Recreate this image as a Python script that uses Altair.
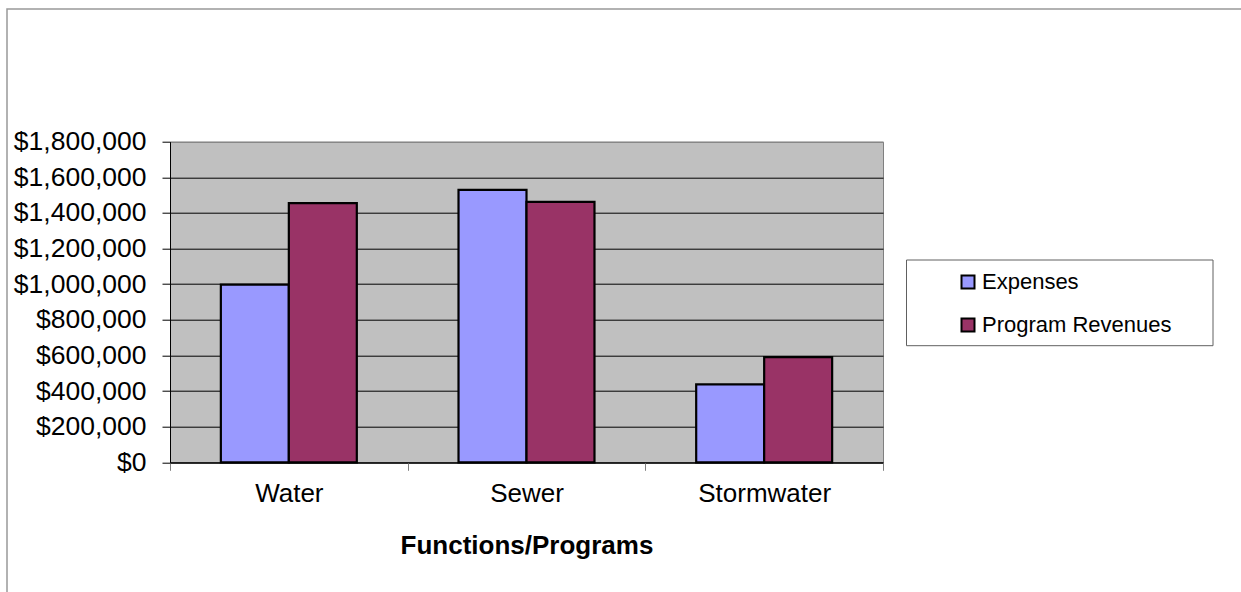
import altair as alt
import pandas as pd

# Chart values
programs = ["Water", "Sewer", "Stormwater"]
series = ["Expenses", "Program Revenues"]
expenses = [997000, 1530000, 438000]
revenues = [1455000, 1462000, 590000]
y_ticks = [0, 200000, 400000, 600000, 800000, 1000000, 1200000, 1400000, 1600000, 1800000]
series_colors = ["#9999FF", "#993366"]

rows = []
for name, exp, rev in zip(programs, expenses, revenues):
    rows.append({"program": name, "series": series[0], "amount": exp})
    rows.append({"program": name, "series": series[1], "amount": rev})
df = pd.DataFrame(rows)

FONT = "Liberation Sans"
W, H = 713, 320.6
PAD = {"left": 170, "top": 141.7, "right": 358, "bottom": 129.7}

bars = alt.Chart(df).mark_bar(stroke="black", strokeWidth=2.2).encode(
    x=alt.X(
        "program:N",
        sort=programs,
        scale=alt.Scale(paddingInner=0, paddingOuter=0),
        axis=alt.Axis(
            title="Functions/Programs",
            labelAngle=0,
            tickBand="extent",
            tickSize=8,
            tickColor="#808080",
            domainColor="black",
            labelFont=FONT,
            labelFontSize=26,
            labelColor="black",
            labelPadding=10,
            titleFont=FONT,
            titleFontSize=26,
            titleFontWeight="bold",
            titleColor="black",
            titleBaseline="alphabetic",
            titleY=91,
            grid=False,
        ),
    ),
    xOffset=alt.XOffset(
        "series:N",
        sort=series,
        scale=alt.Scale(paddingInner=0, paddingOuter=0.748),
    ),
    y=alt.Y(
        "amount:Q",
        scale=alt.Scale(domain=[0, 1800000], nice=False),
        axis=alt.Axis(
            title=None,
            values=y_ticks,
            format="$,.0f",
            tickSize=8,
            tickColor="black",
            domainColor="black",
            labelFont=FONT,
            labelFontSize=26.5,
            labelColor="black",
            labelPadding=16,
            grid=True,
            gridColor={"condition": {"test": "datum.value >= 1800000", "value": "#808080"}, "value": "black"},
            gridOpacity=1,
            gridWidth=1,
        ),
    ),
    color=alt.Color(
        "series:N",
        sort=series,
        scale=alt.Scale(domain=series, range=series_colors),
        legend=alt.Legend(
            title=None,
            orient="none",
            legendX=787,
            legendY=129.3,
            padding=0,
            symbolType="square",
            symbolSize=169,
            symbolStrokeColor="black",
            symbolStrokeWidth=2,
            symbolOpacity=1,
            labelFont=FONT,
            labelFontSize=22,
            labelColor="black",
            labelOffset=3,
            labelLimit=400,
            rowPadding=21,
        ),
    ),
)

# Outer chart frame
frame = alt.Chart(alt.Data(values=[{}])).mark_rect(
    fillOpacity=0, stroke="#999999", strokeWidth=1.5
).encode(
    x=alt.value(-163), x2=alt.value(1085),
    y=alt.value(-132.7), y2=alt.value(465),
)

# Legend frame
legend_box = alt.Chart(alt.Data(values=[{}])).mark_rect(
    fill="white", stroke="#606060", strokeWidth=1
).encode(
    x=alt.value(736.5), x2=alt.value(1043),
    y=alt.value(118.3), y2=alt.value(204),
)

chart = alt.layer(frame, legend_box, bars).properties(
    width=W,
    height=H,
    autosize=alt.AutoSizeParams(type="none"),
    padding=PAD,
    background="white",
).configure_view(
    fill="#C0C0C0",
    stroke="#808080",
    strokeWidth=1,
)

chart.save("out.html", embed_options={"renderer": "svg", "actions": False})
